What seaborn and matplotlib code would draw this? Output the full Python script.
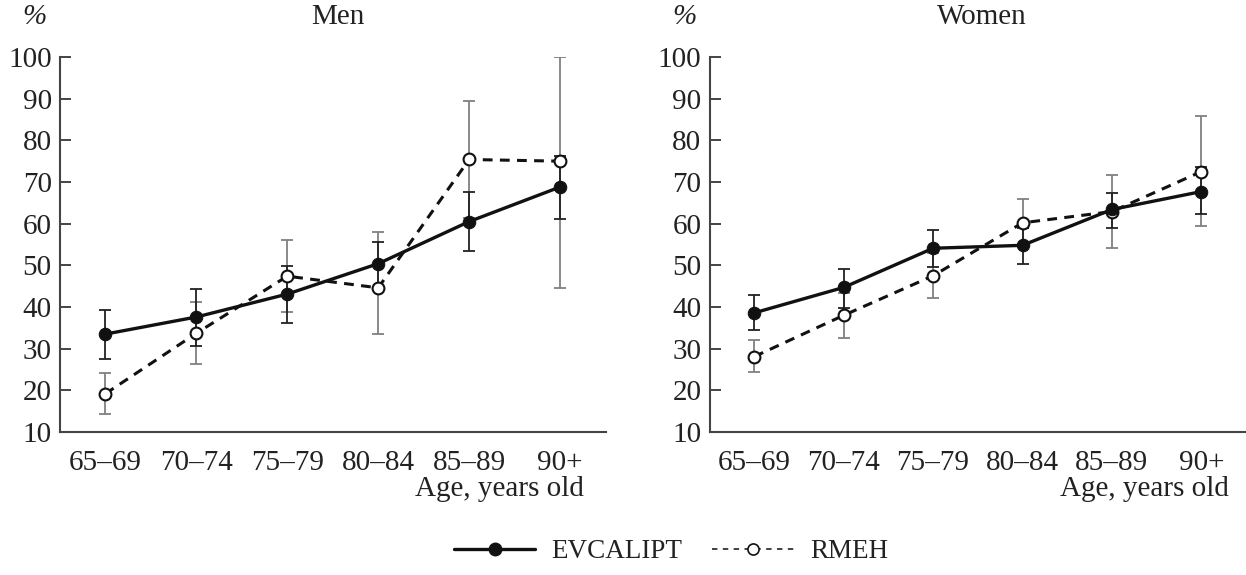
import matplotlib
matplotlib.use("Agg")
import matplotlib.pyplot as plt
from matplotlib.lines import Line2D
import seaborn as sns
import numpy as np
import pandas as pd

categories = ["65–69", "70–74", "75–79", "80–84", "85–89", "90+"]

men_evc = [33.5, 37.6, 43.1, 50.4, 60.5, 68.8]
men_evc_lo = [27.5, 30.7, 36.1, 44.0, 53.5, 61.2]
men_evc_hi = [39.2, 44.2, 49.9, 55.6, 67.7, 76.3]
men_rmeh = [19.2, 33.7, 47.4, 44.6, 75.4, 75.0]
men_rmeh_lo = [14.4, 26.3, 38.7, 33.5, 61.3, 44.5]
men_rmeh_hi = [24.1, 41.2, 56.0, 57.9, 89.5, 100.0]

women_evc = [38.6, 44.7, 54.1, 54.8, 63.4, 67.7]
women_evc_lo = [34.5, 39.7, 49.6, 50.4, 59.0, 62.4]
women_evc_hi = [42.9, 49.1, 58.4, 59.0, 67.3, 73.5]
women_rmeh = [28.1, 38.0, 47.5, 60.2, 62.9, 72.5]
women_rmeh_lo = [24.5, 32.5, 42.2, 54.4, 54.1, 59.4]
women_rmeh_hi = [32.1, 43.4, 53.0, 66.0, 71.7, 85.8]

panels = ["Men", "Women"]
series = ["EVCALIPT", "RMEH"]
y_label = "%"
x_label = "Age, years old"

sns.set_theme(style="white")
plt.rcParams["font.family"] = ["Liberation Serif", "DejaVu Serif"]

W, H = 1246, 575
fig = plt.figure(figsize=(W / 100, H / 100), dpi=100)
fs = 21
tc = "#222222"

def frac_box(x0, x1, ytop, ybot):
    return [x0 / W, 1 - ybot / H, (x1 - x0) / W, (ybot - ytop) / H]

ax_m = fig.add_axes(frac_box(60, 605.5, 57, 432))
ax_w = fig.add_axes(frac_box(709.6, 1246, 57, 432))

data = {
    "Men": (men_evc, men_evc_lo, men_evc_hi, men_rmeh, men_rmeh_lo, men_rmeh_hi),
    "Women": (women_evc, women_evc_lo, women_evc_hi, women_rmeh, women_rmeh_lo, women_rmeh_hi),
}

x = np.arange(len(categories))
for ax, name in zip([ax_m, ax_w], panels):
    ev, evl, evh, rm, rml, rmh = map(np.array, data[name])
    ax.errorbar(x, rm, yerr=[rm - rml, rmh - rm], fmt="none", ecolor="#808080",
                elinewidth=1.3, capsize=4.5, capthick=1.3, zorder=2)
    ax.errorbar(x, ev, yerr=[ev - evl, evh - ev], fmt="none", ecolor="#222222",
                elinewidth=1.3, capsize=4.5, capthick=1.3, zorder=2)
    df = pd.DataFrame({"x": np.concatenate([x, x]),
                       "y": np.concatenate([ev, rm]),
                       "s": [series[0]] * len(x) + [series[1]] * len(x)})
    sns.lineplot(data=df[df.s == series[1]], x="x", y="y", ax=ax, color="#111111",
                 linewidth=2.2, linestyle=(0, (3.2, 2.4)), marker="o", markersize=8.5,
                 markerfacecolor="white", markeredgecolor="#111111", markeredgewidth=1.5,
                 legend=False, zorder=3)
    sns.lineplot(data=df[df.s == series[0]], x="x", y="y", ax=ax, color="#111111",
                 linewidth=2.4, marker="o", markersize=9, markerfacecolor="#111111",
                 markeredgecolor="#111111", legend=False, zorder=4)
    ax.set_xlim(-0.5, 5.5)
    ax.set_ylim(10, 100)
    ax.set_yticks(range(10, 101, 10))
    ax.set_yticklabels([str(v) for v in range(10, 101, 10)], fontsize=fs, color=tc)
    ax.set_xticks(np.arange(0.5, 5.0, 1.0))
    ax.set_xticklabels([])
    ax.set_xticks(x, minor=True)
    ax.set_xticklabels(categories, minor=True, fontsize=fs, color=tc)
    ax.tick_params(axis="x", which="minor", length=0, pad=13)
    ax.tick_params(axis="x", which="major", direction="in", length=11, width=1.4, color="#444444")
    ax.tick_params(axis="y", direction="in", length=8, width=1.4, color="#444444", pad=6, left=True)
    ax.set_xlabel("")
    ax.set_ylabel("")
    for s in ["top", "right"]:
        ax.spines[s].set_visible(False)
    for s in ["left", "bottom"]:
        ax.spines[s].set_color("#444444")
        ax.spines[s].set_linewidth(1.5)
    ax.patch.set_alpha(0)

title_y = 1 - 17 / H
fig.text(338 / W, title_y, panels[0], ha="center", va="center", fontsize=fs, color=tc)
fig.text(982 / W, title_y, panels[1], ha="center", va="center", fontsize=fs, color=tc)
fig.text(34 / W, title_y, y_label, ha="center", va="center", fontsize=fs, style="italic", color=tc)
fig.text(684 / W, title_y, y_label, ha="center", va="center", fontsize=fs, style="italic", color=tc)
fig.text(584 / W, 1 - 489 / H, x_label, ha="right", va="center", fontsize=fs, color=tc)
fig.text(1229 / W, 1 - 489 / H, x_label, ha="right", va="center", fontsize=fs, color=tc)

handles = [
    Line2D([0], [0], color="#111111", linewidth=2.4, marker="o", markersize=9,
           markerfacecolor="#111111"),
    Line2D([0], [0], color="#333333", linewidth=1.3, linestyle=(0, (3, 3)), marker="o",
           markersize=8, markerfacecolor="white", markeredgecolor="#111111", markeredgewidth=1.2),
]
fig.legend(handles, series, loc="center", bbox_to_anchor=(671 / W, 1 - 552 / H), ncol=2,
           frameon=False, fontsize=19.5, handlelength=3.0, columnspacing=1.1, handletextpad=0.6,
           labelcolor=tc)

fig.savefig("out.png", dpi=100)
